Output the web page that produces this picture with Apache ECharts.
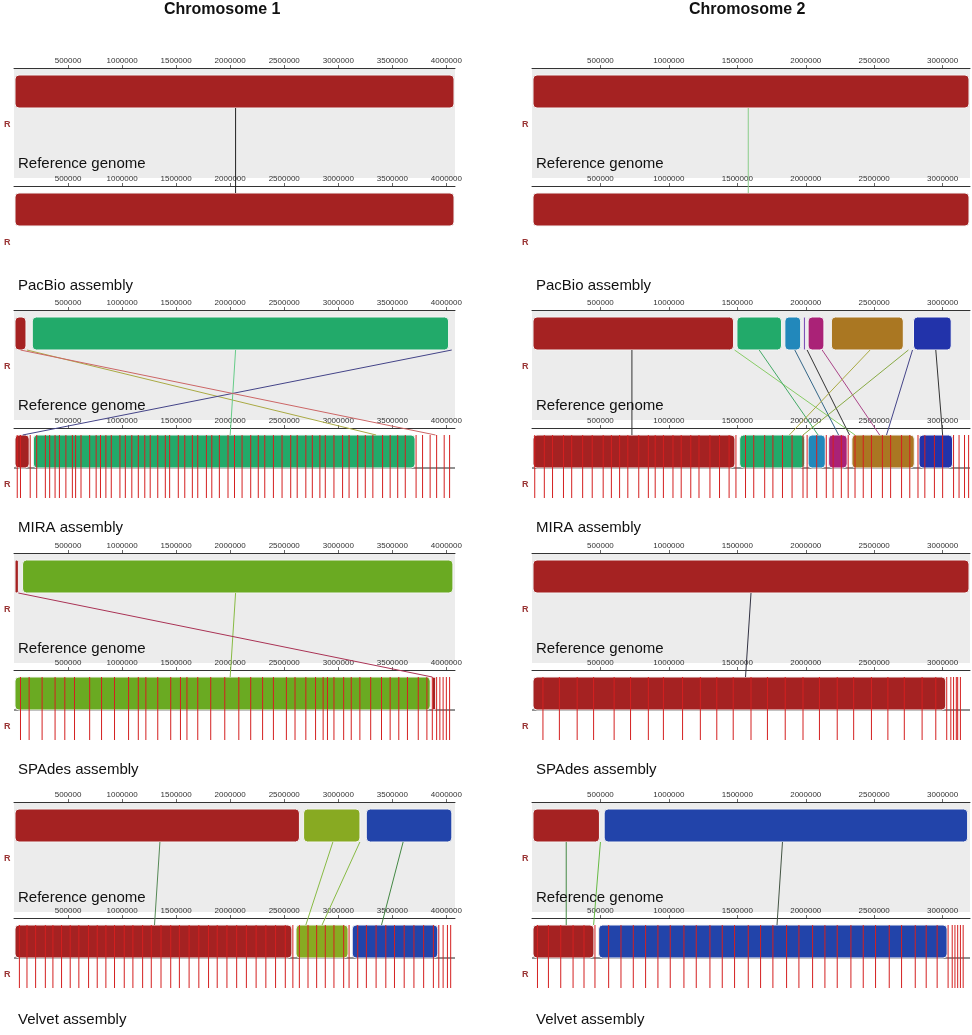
<!DOCTYPE html>
<html>
<head>
<meta charset="utf-8">
<script src="https://cdn.jsdelivr.net/npm/echarts@6/dist/echarts.min.js"></script>
<style>body{margin:0;background:#fff;font-family:Arial,"Liberation Sans",sans-serif}</style>
</head>
<body>
<div id="main" style="width:972px;height:1035px"></div>
<script>
var chromLen = [4080000, 3200000];
var chromTitles = ['Chromosome 1', 'Chromosome 2'];
var assemblies = ['PacBio assembly', 'MIRA assembly', 'SPAdes assembly', 'Velvet assembly'];

var RED = '#a52222', GRN = '#22aa6a', LGRN = '#6aaa22', OLIVE = '#88aa22', BLUE = '#2244aa',
    TEAL = '#2288bb', MAG = '#aa2277', BROWN = '#aa7722', PURP = '#6633aa', NAVY = '#2233aa';

// blocks: [start, end, color]   index: [panel][chrom]
var refBlocks = [
  [[[0, 4080000, RED]], [[0, 3200000, RED]]],
  [[[0, 120000, RED], [160000, 4030000, GRN]],
   [[0, 1480000, RED], [1490000, 1830000, GRN], [1840000, 1970000, TEAL], [1975000, 1995000, PURP], [2010000, 2140000, MAG], [2180000, 2720000, BROWN], [2780000, 3070000, NAVY]]],
  [[[0, 50000, RED], [70000, 4070000, LGRN]], [[0, 3200000, RED]]],
  [[[0, 2650000, RED], [2670000, 3210000, OLIVE], [3250000, 4060000, BLUE]],
   [[0, 500000, RED], [520000, 3190000, BLUE]]]
];
var asmBlocks = [
  [[[0, 4080000, RED]], [[0, 3200000, RED]]],
  [[[0, 150000, RED], [170000, 3720000, GRN]],
   [[0, 1490000, RED], [1510000, 2000000, GRN], [2010000, 2150000, TEAL], [2160000, 2310000, MAG], [2330000, 2800000, BROWN], [2820000, 3080000, NAVY]]],
  [[[0, 3860000, LGRN], [3860000, 3910000, RED]], [[0, 3030000, RED]]],
  [[[0, 2580000, RED], [2600000, 3100000, OLIVE], [3120000, 3930000, BLUE]],
   [[0, 460000, RED], [480000, 3040000, BLUE]]]
];
// connections: [refPos, asmPos, color]
var links = [
  [[[2050000, 2050000, '#222']], [[1580000, 1580000, '#88cc88']]],
  [[[120000, 3350000, '#aaaa44'], [2050000, 2000000, '#66cc88'], [4050000, 80000, '#444488'], [60000, 3900000, '#cc6666']],
   [[730000, 730000, '#333'], [1480000, 2360000, '#88cc66'], [1660000, 2090000, '#44aa66'], [1920000, 2240000, '#336688'], [2010000, 2320000, '#333'], [2120000, 2540000, '#aa4488'], [2470000, 1880000, '#aaaa44'], [2750000, 1980000, '#88aa44'], [2780000, 2590000, '#444488'], [2950000, 3000000, '#333']]],
  [[[2050000, 2000000, '#88bb44'], [40000, 3870000, '#aa3355']], [[1600000, 1560000, '#334']]],
  [[[1350000, 1300000, '#558855'], [2950000, 2700000, '#88bb44'], [3200000, 2850000, '#88bb44'], [3600000, 3400000, '#448844']],
   [[250000, 250000, '#448844'], [500000, 450000, '#66bb44'], [1830000, 1790000, '#445544']]]
];
// contig boundaries in assemblies
var contigs = [
  [[], []],
  [[30000, 60000, 150000, 210000, 290000, 330000, 380000, 420000, 480000, 540000, 570000, 620000, 700000, 760000, 800000, 850000, 900000, 980000, 1030000, 1090000, 1150000, 1210000, 1260000, 1330000, 1400000, 1440000, 1520000, 1580000, 1650000, 1700000, 1780000, 1830000, 1900000, 1980000, 2040000, 2110000, 2190000, 2260000, 2320000, 2400000, 2480000, 2560000, 2620000, 2700000, 2760000, 2830000, 2880000, 2960000, 3040000, 3100000, 3180000, 3250000, 3320000, 3410000, 3480000, 3550000, 3620000, 3720000, 3780000, 3850000, 3910000, 3980000, 4030000],
   [20000, 90000, 150000, 230000, 290000, 370000, 440000, 520000, 580000, 640000, 700000, 780000, 850000, 900000, 960000, 1030000, 1090000, 1160000, 1220000, 1300000, 1370000, 1440000, 1490000, 1560000, 1620000, 1700000, 1760000, 1830000, 1900000, 1980000, 2010000, 2080000, 2150000, 2200000, 2260000, 2310000, 2360000, 2420000, 2480000, 2560000, 2620000, 2700000, 2760000, 2820000, 2870000, 2940000, 3000000, 3080000, 3120000, 3160000, 3190000]],
  [[60000, 140000, 260000, 380000, 470000, 560000, 700000, 810000, 930000, 1060000, 1150000, 1220000, 1330000, 1450000, 1540000, 1600000, 1700000, 1820000, 1950000, 2080000, 2190000, 2300000, 2400000, 2520000, 2600000, 2700000, 2790000, 2860000, 2900000, 2960000, 3050000, 3120000, 3200000, 3300000, 3400000, 3480000, 3560000, 3640000, 3740000, 3820000, 3870000, 3910000, 3940000, 3970000, 4000000, 4030000],
   [80000, 200000, 330000, 450000, 600000, 720000, 850000, 960000, 1100000, 1230000, 1350000, 1470000, 1600000, 1720000, 1850000, 1980000, 2100000, 2230000, 2350000, 2480000, 2600000, 2720000, 2850000, 2950000, 3030000, 3060000, 3080000, 3100000, 3110000, 3130000]],
  [[50000, 120000, 200000, 290000, 360000, 440000, 520000, 600000, 690000, 770000, 850000, 930000, 1020000, 1100000, 1190000, 1270000, 1360000, 1450000, 1530000, 1620000, 1710000, 1800000, 1880000, 1970000, 2060000, 2150000, 2240000, 2330000, 2420000, 2510000, 2580000, 2640000, 2720000, 2800000, 2880000, 2960000, 3050000, 3100000, 3180000, 3260000, 3350000, 3440000, 3520000, 3610000, 3700000, 3790000, 3880000, 3930000, 3970000, 4010000, 4040000],
   [40000, 120000, 210000, 300000, 380000, 460000, 560000, 650000, 740000, 830000, 920000, 1010000, 1110000, 1200000, 1300000, 1390000, 1480000, 1580000, 1670000, 1760000, 1860000, 1950000, 2050000, 2140000, 2230000, 2330000, 2420000, 2510000, 2610000, 2700000, 2800000, 2880000, 2960000, 3040000, 3070000, 3090000, 3110000, 3130000, 3150000]]
];

var rowTops = [68, 186, 310, 428, 553, 670, 802, 918];
var rowHeights = [110, 108, 110, 108, 110, 108, 110, 110];
var colLeft = [14, 532], colWidth = [441, 438];

var chart = echarts.init(document.getElementById('main'));
var grids = [], xAxes = [], yAxes = [], series = [], graphics = [];

function blockSeries(idx, bl) {
  return {
    type: 'custom', xAxisIndex: idx, yAxisIndex: idx, z: 2, silent: true,
    data: bl.map(function (b) { return [b[0], b[1]]; }),
    encode: { x: [0, 1] },
    renderItem: function (p, api) {
      var a = api.coord([bl[p.dataIndex][0], 7]), b = api.coord([bl[p.dataIndex][1], 40]);
      return { type: 'rect', shape: { x: a[0] + 1, y: a[1], width: Math.max(b[0] - a[0] - 2, 2), height: b[1] - a[1], r: 4 },
        style: { fill: bl[p.dataIndex][2], stroke: '#f4f4f4', lineWidth: 1 } };
    }
  };
}

for (var panel = 0; panel < 4; panel++) {
  for (var c = 0; c < 2; c++) {
    for (var t = 0; t < 2; t++) {
      var row = panel * 2 + t, idx = grids.length;
      grids.push({ left: colLeft[c], width: colWidth[c], top: rowTops[row], height: rowHeights[row],
        show: true, borderWidth: 0, backgroundColor: t === 0 ? '#ececec' : '#fff' });
      xAxes.push({ gridIndex: idx, type: 'value', position: 'top', min: 0, max: chromLen[c], interval: 500000,
        axisLine: { lineStyle: { color: '#333' } }, axisTick: { length: 3, lineStyle: { color: '#666' } },
        axisLabel: { fontSize: 8, color: '#333', margin: 3, showMinLabel: false, showMaxLabel: false,
          formatter: function (v) { return String(v); } },
        splitLine: { show: false } });
      yAxes.push({ gridIndex: idx, type: 'value', min: 0, max: rowHeights[row], inverse: true, show: false });
      series.push(blockSeries(idx, (t === 0 ? refBlocks : asmBlocks)[panel][c]));
      if (t === 1 && contigs[panel][c].length) {
        series.push({ type: 'custom', xAxisIndex: idx, yAxisIndex: idx, z: 3, silent: true,
          data: contigs[panel][c].map(function (v) { return [v]; }),
          encode: { x: 0 },
          renderItem: function (p, api) {
            var a = api.coord([api.value(0), 7]), b = api.coord([api.value(0), 70]);
            return { type: 'line', shape: { x1: a[0], y1: a[1], x2: b[0], y2: b[1] }, style: { stroke: '#d42020', lineWidth: 1 } };
          } });
        series.push({ type: 'custom', xAxisIndex: idx, yAxisIndex: idx, z: 1, silent: true,
          data: [[0]], encode: { x: 0 },
          renderItem: function (p, api) {
            var a = api.coord([0, 40]);
            return { type: 'line', shape: { x1: a[0], y1: a[1], x2: p.coordSys.x + p.coordSys.width, y2: a[1] }, style: { stroke: '#222', lineWidth: 1 } };
          } });
      }
      graphics.push({ type: 'text', left: colLeft[c] + 4, top: rowTops[row] + rowHeights[row] - (t === 0 ? 22 : 16),
        style: { text: t === 0 ? 'Reference genome' : assemblies[panel], fontSize: 15, fill: '#111' }, z: 10 });
      graphics.push({ type: 'text', left: colLeft[c] - 10, top: rowTops[row] + 52,
        style: { text: 'R', fontSize: 9, fontWeight: 'bold', fill: '#993333' }, z: 10 });
    }
    // connections between ref (idx-2) and assembly (idx-1)
    (function (refIdx, asmIdx, data) {
      series.push({ type: 'custom', xAxisIndex: refIdx, yAxisIndex: refIdx, z: 5, silent: true, clip: false,
        data: data.map(function (d) { return [d[0], d[1]]; }), encode: { x: 0 },
        renderItem: function (p, api) {
          var a = api.coord([data[p.dataIndex][0], 40]);
          var b = chart.convertToPixel({ xAxisIndex: asmIdx, yAxisIndex: asmIdx }, [data[p.dataIndex][1], 7]);
          if (!b) return null;
          return { type: 'line', shape: { x1: a[0], y1: a[1], x2: b[0], y2: b[1] }, style: { stroke: data[p.dataIndex][2], lineWidth: 1 } };
        } });
    })(grids.length - 2, grids.length - 1, links[panel][c]);
  }
}
graphics.push({ type: 'text', left: 164, top: 2, style: { text: chromTitles[0], fontSize: 16, fontWeight: 'bold', fill: '#111' } });
graphics.push({ type: 'text', left: 689, top: 2, style: { text: chromTitles[1], fontSize: 16, fontWeight: 'bold', fill: '#111' } });

chart.setOption({ animation: false, grid: grids, xAxis: xAxes, yAxis: yAxes, series: series, graphic: graphics });
// redraw once so connection lines can use the assembly axes
chart.setOption({ series: series });
</script>
</body>
</html>
